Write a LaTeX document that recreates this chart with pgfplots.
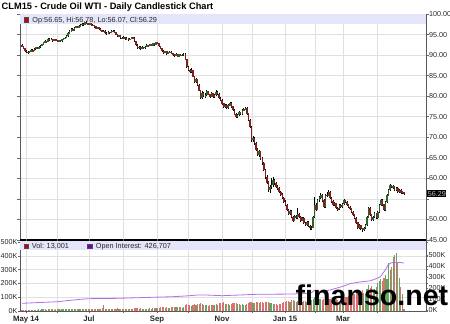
\documentclass[border=0pt]{standalone}
\usepackage{pgfplots}
\pgfplotsset{compat=1.18}
\usepackage{pgfplotstable}
\usepackage{fontspec}
\setmainfont{Liberation Sans}
\definecolor{band}{RGB}{228,228,250}
\definecolor{gridc}{RGB}{224,224,224}
\definecolor{upc}{RGB}{45,100,45}
\definecolor{dnc}{RGB}{130,30,30}
\definecolor{volup}{RGB}{100,165,100}
\definecolor{voldn}{RGB}{222,112,112}
\definecolor{oic}{RGB}{180,110,230}
\definecolor{sqred}{RGB}{200,0,0}
\definecolor{sqpur}{RGB}{120,0,180}
\pgfplotstableread{
i o h l c v
0 92.4 92.6 91.9 92.2 6
1 92.2 92.3 91.4 91.6 7
2 91.6 91.8 90.8 91.0 9
3 91.0 91.3 90.6 90.8 8
4 90.8 91.0 90.3 90.5 10
5 90.5 91.1 90.4 90.9 9
6 90.9 91.4 90.8 91.2 7
7 91.2 91.4 90.8 91.0 8
8 91.0 91.7 90.9 91.5 10
9 91.5 92.0 91.3 91.8 9
10 91.8 92.0 91.4 91.6 8
11 91.6 92.2 91.5 92.0 11
12 92.0 92.4 91.8 92.2 10
13 92.2 92.8 92.1 92.6 12
14 92.6 93.2 92.5 93.0 11
15 93.0 93.6 92.9 93.4 13
16 93.4 93.5 93.0 93.2 10
17 93.2 94.1 93.1 93.9 14
18 93.9 94.1 93.5 93.7 12
19 93.7 94.1 93.6 93.9 11
20 93.9 94.0 93.3 93.5 12
21 93.5 94.0 93.4 93.8 10
22 93.8 93.9 93.4 93.6 11
23 93.6 93.7 93.1 93.3 13
24 93.3 93.7 93.2 93.5 12
25 93.5 93.6 93.2 93.4 10
26 93.4 94.0 93.3 93.8 13
27 93.8 94.2 93.7 94.0 12
28 94.0 94.4 93.8 94.2 14
29 94.2 94.8 94.1 94.6 15
30 94.6 95.5 94.5 95.3 18
31 95.3 96.0 95.1 95.8 16
32 95.8 96.5 95.7 96.3 17
33 96.3 96.5 95.8 96.0 15
34 96.0 96.8 95.9 96.6 16
35 96.6 97.1 96.5 96.9 18
36 96.9 97.0 96.5 96.7 14
37 96.7 97.3 96.6 97.1 15
38 97.1 97.5 97.0 97.3 16
39 97.3 97.8 97.2 97.6 17
40 97.6 97.7 97.2 97.4 15
41 97.4 98.1 97.3 97.9 18
42 97.9 98.2 97.6 97.8 16
43 97.8 97.9 97.3 97.5 14
44 97.5 97.9 97.4 97.7 15
45 97.7 97.8 97.0 97.2 17
46 97.2 97.5 97.1 97.3 13
47 97.3 97.4 96.7 96.9 16
48 96.9 97.0 96.3 96.5 18
49 96.5 96.9 96.4 96.7 15
50 96.7 96.8 96.1 96.3 17
51 96.3 96.5 95.9 96.1 16
52 96.1 96.2 95.5 95.7 20
53 95.7 96.1 95.6 95.9 45
54 95.9 96.0 95.2 95.4 18
55 95.4 95.6 95.0 95.2 16
56 95.2 95.8 95.1 95.6 15
57 95.6 95.7 95.2 95.4 14
58 95.4 96.0 95.3 95.8 16
59 95.8 96.1 95.6 95.9 15
60 95.9 96.0 95.3 95.5 17
61 95.5 95.6 94.8 95.0 18
62 95.0 95.1 94.4 94.6 19
63 94.6 95.0 94.5 94.8 16
64 94.8 94.9 94.0 94.2 18
65 94.2 94.3 93.8 94.0 17
66 94.0 94.6 93.9 94.4 15
67 94.4 94.5 93.7 93.9 18
68 93.9 94.3 93.8 94.1 16
69 94.1 94.2 93.5 93.7 17
70 93.7 94.1 93.6 93.9 15
71 93.9 94.5 93.8 94.3 16
72 94.3 94.5 94.0 94.2 14
73 94.2 94.3 93.2 93.4 19
74 93.4 93.5 92.3 92.5 22
75 92.5 92.7 91.5 91.7 24
76 91.7 92.2 91.6 92.0 18
77 92.0 92.1 91.3 91.5 20
78 91.5 92.1 91.4 91.9 17
79 91.9 92.0 91.5 91.7 16
80 91.7 92.2 91.6 92.0 18
81 92.0 92.6 91.9 92.4 17
82 92.4 92.5 92.0 92.2 16
83 92.2 92.8 92.1 92.6 19
84 92.6 92.7 92.1 92.3 18
85 92.3 93.0 92.2 92.8 20
86 92.8 92.9 92.3 92.5 22
87 92.5 93.3 92.4 93.1 21
88 93.1 93.2 92.7 92.9 19
89 92.9 93.0 92.0 92.2 24
90 92.2 92.3 91.4 91.6 26
91 91.6 91.8 90.8 91.0 28
92 91.0 91.2 90.3 90.5 30
93 90.5 91.1 90.4 90.9 24
94 90.9 91.0 90.1 90.3 27
95 90.3 90.8 90.2 90.6 25
96 90.6 91.0 90.5 90.8 22
97 90.8 90.9 90.2 90.4 26
98 90.4 90.6 89.9 90.1 28
99 90.1 90.3 89.6 89.8 30
100 89.8 90.4 89.7 90.2 27
101 90.2 90.3 89.5 89.7 29
102 89.7 90.3 89.6 90.1 26
103 90.1 90.2 89.7 89.9 28
104 89.9 90.2 89.8 90.0 25
105 90.0 90.5 89.9 90.3 30
106 90.3 90.4 88.7 88.9 40
107 88.9 89.1 86.9 87.1 48
108 87.1 87.4 86.2 86.4 42
109 86.4 86.6 85.7 85.9 45
110 85.9 86.8 85.7 86.3 38
111 86.3 86.4 84.6 84.8 46
112 84.8 85.0 83.3 83.5 50
113 83.5 84.4 83.2 84.0 42
114 84.0 84.2 82.4 82.7 48
115 82.7 82.9 81.2 81.4 52
116 81.4 81.6 79.3 79.6 55
117 79.6 81.2 79.4 80.8 50
118 80.8 81.0 79.7 80.0 44
119 80.0 80.7 79.6 80.3 40
120 80.3 81.5 80.1 81.1 42
121 81.1 81.3 80.2 80.4 38
122 80.4 80.6 79.6 79.9 44
123 79.9 80.9 79.7 80.6 40
124 80.6 80.8 79.5 79.8 46
125 79.8 80.6 79.6 80.3 42
126 80.3 81.4 80.1 81.0 48
127 81.0 81.2 80.2 80.5 45
128 80.5 80.7 79.3 79.6 55
129 79.6 79.8 78.8 79.1 60
130 79.1 79.3 77.9 78.2 58
131 78.2 78.4 77.1 77.4 62
132 77.4 78.2 77.2 77.9 50
133 77.9 78.1 76.9 77.2 54
134 77.2 78.1 77.0 77.8 48
135 77.8 78.6 77.6 78.3 46
136 78.3 78.5 77.2 77.5 50
137 77.5 77.7 76.3 76.6 55
138 76.6 76.8 75.3 75.6 58
139 75.6 75.8 74.6 74.9 60
140 74.9 75.7 74.7 75.4 52
141 75.4 76.3 75.2 76.0 48
142 76.0 76.2 75.4 75.7 46
143 75.7 76.9 75.5 76.6 50
144 76.6 77.2 76.4 76.9 44
145 76.9 77.4 76.7 77.1 42
146 77.1 77.3 75.5 75.8 52
147 75.8 76.0 73.9 74.2 58
148 74.2 74.5 72.2 72.5 65
149 72.5 72.8 68.9 69.3 62
150 69.3 70.4 68.8 69.8 55
151 69.8 70.1 68.2 68.6 58
152 68.6 68.9 66.7 67.0 62
153 67.0 67.3 65.4 65.7 65
154 65.7 66.9 65.3 66.5 58
155 66.5 66.7 64.5 64.8 62
156 64.8 65.1 63.3 63.7 64
157 63.7 64.0 61.7 62.0 60
158 62.0 62.3 59.9 60.3 66
159 60.3 60.8 58.6 59.0 62
160 59.0 59.3 56.8 57.2 68
161 57.2 58.4 56.5 57.9 55
162 57.9 60.2 57.4 58.4 58
163 58.4 60.3 58.0 59.5 52
164 59.5 59.8 58.5 58.9 50
165 58.9 59.2 57.7 58.0 48
166 58.0 58.5 57.2 57.6 45
167 57.6 57.9 56.4 56.7 50
168 56.7 56.9 55.8 56.1 52
169 56.1 56.4 54.9 55.2 58
170 55.2 55.5 54.0 54.3 62
171 54.3 54.8 53.2 53.5 65
172 53.5 53.8 52.0 52.3 70
173 52.3 52.6 51.2 51.5 75
174 51.5 52.4 51.1 52.0 68
175 52.0 52.2 50.3 50.6 80
176 50.6 50.9 49.5 49.8 78
177 49.8 51.0 49.6 50.7 72
178 50.7 51.2 50.1 50.4 65
179 50.4 52.8 50.2 51.3 70
180 51.3 51.6 50.3 50.6 68
181 50.6 50.9 49.5 49.8 72
182 49.8 50.6 49.6 50.2 66
183 50.2 50.5 48.8 49.1 74
184 49.1 49.4 48.4 48.7 70
185 48.7 49.6 48.5 49.3 68
186 49.3 49.6 48.1 48.4 72
187 48.4 48.6 47.5 47.9 80
188 47.9 48.4 47.4 47.9 78
189 47.9 50.9 47.8 50.6 90
190 50.6 55.5 50.4 53.5 100
191 53.5 53.9 52.0 52.4 95
192 52.4 55.0 52.2 54.7 92
193 54.7 55.8 54.2 55.3 85
194 55.3 56.5 54.9 56.0 88
195 56.0 56.2 54.3 54.6 82
196 54.6 54.9 52.7 53.0 90
197 53.0 56.3 52.8 56.0 95
198 56.0 56.6 55.4 55.8 80
199 55.8 57.2 55.6 56.7 84
200 56.7 56.9 54.9 55.2 86
201 55.2 55.5 54.1 54.4 78
202 54.4 54.7 53.2 53.5 82
203 53.5 54.3 53.2 53.9 75
204 53.9 54.1 52.5 52.8 85
205 52.8 53.1 52.1 52.5 80
206 52.5 53.8 52.3 53.5 76
207 53.5 53.7 52.7 53.0 82
208 53.0 54.1 52.8 53.8 88
209 53.8 54.9 53.6 54.6 95
210 54.6 54.8 53.9 54.2 100
211 54.2 54.4 53.3 53.6 105
212 53.6 53.8 52.7 53.0 110
213 53.0 53.2 52.3 52.6 108
214 52.6 52.8 51.5 51.8 115
215 51.8 52.0 50.9 51.2 120
216 51.2 51.4 50.1 50.4 125
217 50.4 50.6 48.9 49.2 135
218 49.2 49.4 47.6 47.9 150
219 47.9 48.8 47.7 48.5 130
220 48.5 48.7 47.5 47.8 140
221 47.8 48.0 46.9 47.4 155
222 47.4 48.2 47.2 47.9 130
223 47.9 48.9 47.7 48.6 125
224 48.6 50.8 48.4 50.5 160
225 50.5 53.1 50.3 52.8 190
226 52.8 53.0 50.9 51.2 170
227 51.2 51.4 49.6 49.9 180
228 49.9 50.9 49.7 50.6 150
229 50.6 51.7 50.4 51.4 160
230 51.4 51.6 50.1 50.4 175
231 50.4 52.1 50.2 51.8 200
232 51.8 53.8 51.6 53.5 215
233 53.5 55.0 53.3 54.7 230
234 54.7 54.9 53.3 53.6 220
235 53.6 53.8 52.0 52.3 240
236 52.3 54.6 52.1 54.3 260
237 54.3 56.1 54.1 55.8 230
238 55.8 57.5 55.6 57.2 345
239 57.2 58.6 57.0 58.3 300
240 58.3 58.5 57.6 57.9 320
241 57.9 58.4 57.5 58.0 390
242 58.0 58.2 56.9 57.2 405
243 57.2 57.9 57.0 57.6 420
244 57.6 57.8 56.4 56.7 350
245 56.7 57.4 56.5 57.1 240
246 57.1 57.3 56.2 56.5 175
247 56.5 57.0 56.3 56.8 120
248 56.65 56.78 56.07 56.29 13
}\data
\begin{document}
\begin{tikzpicture}
\useasboundingbox (0,0) rectangle (450bp,324bp);
\node[anchor=base west, inner sep=0pt, font=\bfseries\fontsize{9.3}{10}\selectfont] at (1.5bp,314.7bp) {CLM15 - Crude Oil WTI - Daily Candlestick Chart};
% ---------------- price panel
\begin{axis}[
  at={(20bp,84bp)}, anchor=south west, width=406bp, height=226bp, scale only axis,
  xmin=-1.3, xmax=262.3, ymin=45, ymax=100,
  xtick={2.6,22.7,43.5,65.6,87.7,107.8,129.9,149.4,170.8,190.3,208.4,230.5},
  xticklabels={}, xtick style={draw=none},
  ytick={45,50,...,100},
  yticklabels={45.00,50.00,,60.00,65.00,70.00,75.00,80.00,85.00,90.00,95.00,100.00},
  yticklabel pos=right,
  tick align=outside, major tick length=2.5bp,
  ytick style={draw=black!60, line width=0.5bp},
  grid=major, major grid style={draw=gridc, line width=0.5bp},
  axis line style={draw=black!65, line width=0.6bp},
  yticklabel style={font=\fontsize{7.2}{8}\selectfont, inner sep=0.4bp, text=black!85},
  clip=false,
]
\fill[band] (rel axis cs:0,1) rectangle ([yshift=-10.5bp]rel axis cs:1,1);
\fill[sqred, draw=black!70, line width=0.3bp] ([xshift=4bp,yshift=-3.5bp]rel axis cs:0,1) rectangle ([xshift=8.5bp,yshift=-8bp]rel axis cs:0,1);
\node[anchor=base west, inner sep=0pt, font=\fontsize{7.3}{8}\selectfont, text=black!85] at ([xshift=12.3bp,yshift=-8.5bp]rel axis cs:0,1) {Op:56.65, Hi:56.78, Lo:56.07, Cl:56.29};
\addplot[draw=none, mark=none,
  error bars/.cd, y dir=both, y explicit, error mark=none,
  error bar style={line width=0.75bp, draw=black}]
  table[x=i, y expr={(\thisrow{h}+\thisrow{l})/2}, y error expr={(\thisrow{h}-\thisrow{l})/2}] {\data};
\addplot[draw=none, mark=none,
  restrict expr to domain={\thisrow{c}-\thisrow{o}}{0:100},
  error bars/.cd, y dir=both, y explicit, error mark=none,
  error bar style={line width=1.5bp, draw=upc}]
  table[x=i, y expr={(\thisrow{o}+\thisrow{c})/2}, y error expr={abs(\thisrow{c}-\thisrow{o})/2+0.07}] {\data};
\addplot[draw=none, mark=none,
  restrict expr to domain={\thisrow{c}-\thisrow{o}}{-100:-0.001},
  error bars/.cd, y dir=both, y explicit, error mark=none,
  error bar style={line width=1.5bp, draw=dnc}]
  table[x=i, y expr={(\thisrow{o}+\thisrow{c})/2}, y error expr={abs(\thisrow{c}-\thisrow{o})/2+0.07}] {\data};
\node[anchor=west, fill=black, text=black!25, inner xsep=0.6bp, inner ysep=1.2bp, text height=5.3bp, text depth=0bp, font=\fontsize{7.2}{8}\selectfont] at ([xshift=1bp]axis cs:262.3,56.29) {56.29};
\draw[black, line width=1.5bp] (rel axis cs:0,0) -- (rel axis cs:1,0);
\end{axis}
% ---------------- volume panel
\begin{axis}[
  at={(20bp,13bp)}, anchor=south west, width=406bp, height=70bp, scale only axis,
  xmin=-1.3, xmax=262.3, ymin=0, ymax=507.2,
  xtick={2.6,22.7,43.5,65.6,87.7,107.8,129.9,149.4,170.8,190.3,208.4,230.5},
  xticklabels={May 14,,Jul,,Sep,,Nov,,Jan 15,,Mar,},
  ytick={0,100,...,500},
  yticklabels={0K,100K,200K,300K,400K,500K},
  tick align=outside, major tick length=2bp,
  tick style={draw=black!60, line width=0.5bp},
  grid=major, major grid style={draw=gridc, line width=0.5bp},
  axis line style={draw=black!65, line width=0.6bp},
  yticklabel style={font=\fontsize{7.2}{8}\selectfont, inner sep=0.5bp, text=black!85},
  xticklabel style={font=\bfseries\fontsize{7.8}{8}\selectfont, anchor=base, yshift=-8bp, text=black!85},
  clip=false,
]
\fill[band] (rel axis cs:0,1) rectangle ([yshift=-9.5bp]rel axis cs:1,1);
\fill[sqred, draw=black!70, line width=0.3bp] ([xshift=4bp,yshift=-3bp]rel axis cs:0,1) rectangle ([xshift=8.5bp,yshift=-7.5bp]rel axis cs:0,1);
\node[anchor=base west, inner sep=0pt, font=\fontsize{7.3}{8}\selectfont, text=black!85] at ([xshift=11.7bp,yshift=-8bp]rel axis cs:0,1) {Vol: 13,001};
\fill[sqpur, draw=black!70, line width=0.3bp] ([xshift=67.3bp,yshift=-3bp]rel axis cs:0,1) rectangle ([xshift=71.7bp,yshift=-7.5bp]rel axis cs:0,1);
\node[anchor=base west, inner sep=0pt, font=\fontsize{7.3}{8}\selectfont, text=black!85] at ([xshift=75.7bp,yshift=-8bp]rel axis cs:0,1) {Open Interest: 426,707};
\addplot[ycomb, line width=1.1bp, draw=volup, mark=none,
  restrict expr to domain={\thisrow{c}-\thisrow{o}}{0:100}]
  table[x=i, y=v] {\data};
\addplot[ycomb, line width=1.1bp, draw=voldn, mark=none,
  restrict expr to domain={\thisrow{c}-\thisrow{o}}{-100:-0.001}]
  table[x=i, y=v] {\data};
\end{axis}
\begin{axis}[
  at={(20bp,13bp)}, anchor=south west, width=406bp, height=70bp, scale only axis,
  xmin=-1.3, xmax=262.3, ymin=-9.1, ymax=627.3,
  axis x line=none, axis y line*=right,
  ytick={0,100,...,500},
  yticklabels={0K,100K,200K,300K,400K,500K},
  tick align=outside, major tick length=2bp,
  tick style={draw=black!60, line width=0.5bp},
  axis line style={draw=black!65, line width=0.6bp},
  yticklabel style={font=\fontsize{7.2}{8}\selectfont, inner sep=0.5bp, text=black!85},
]
\addplot[oic, line width=0.8bp, mark=none] coordinates {
(0,61) (22.7,75) (37.7,97) (44,103) (61.7,106) (83,115) (98,121) (109,130)
(113.6,136) (120,136) (130,130) (153,143) (175,145) (184,150) (188,158) (190,180)
(193.5,165) (200,182) (208.4,215) (213,240) (219.5,255) (226,265) (229,280)
(232.5,300) (235.7,360) (237.7,410) (239.5,428) (241,432) (245.5,432) (248,427)
};
\end{axis}
\node[anchor=base west, inner sep=0pt, font=\bfseries\fontsize{28.7}{30}\selectfont] at (295.5bp,19bp) {finanso.net};
\end{tikzpicture}
\end{document}
